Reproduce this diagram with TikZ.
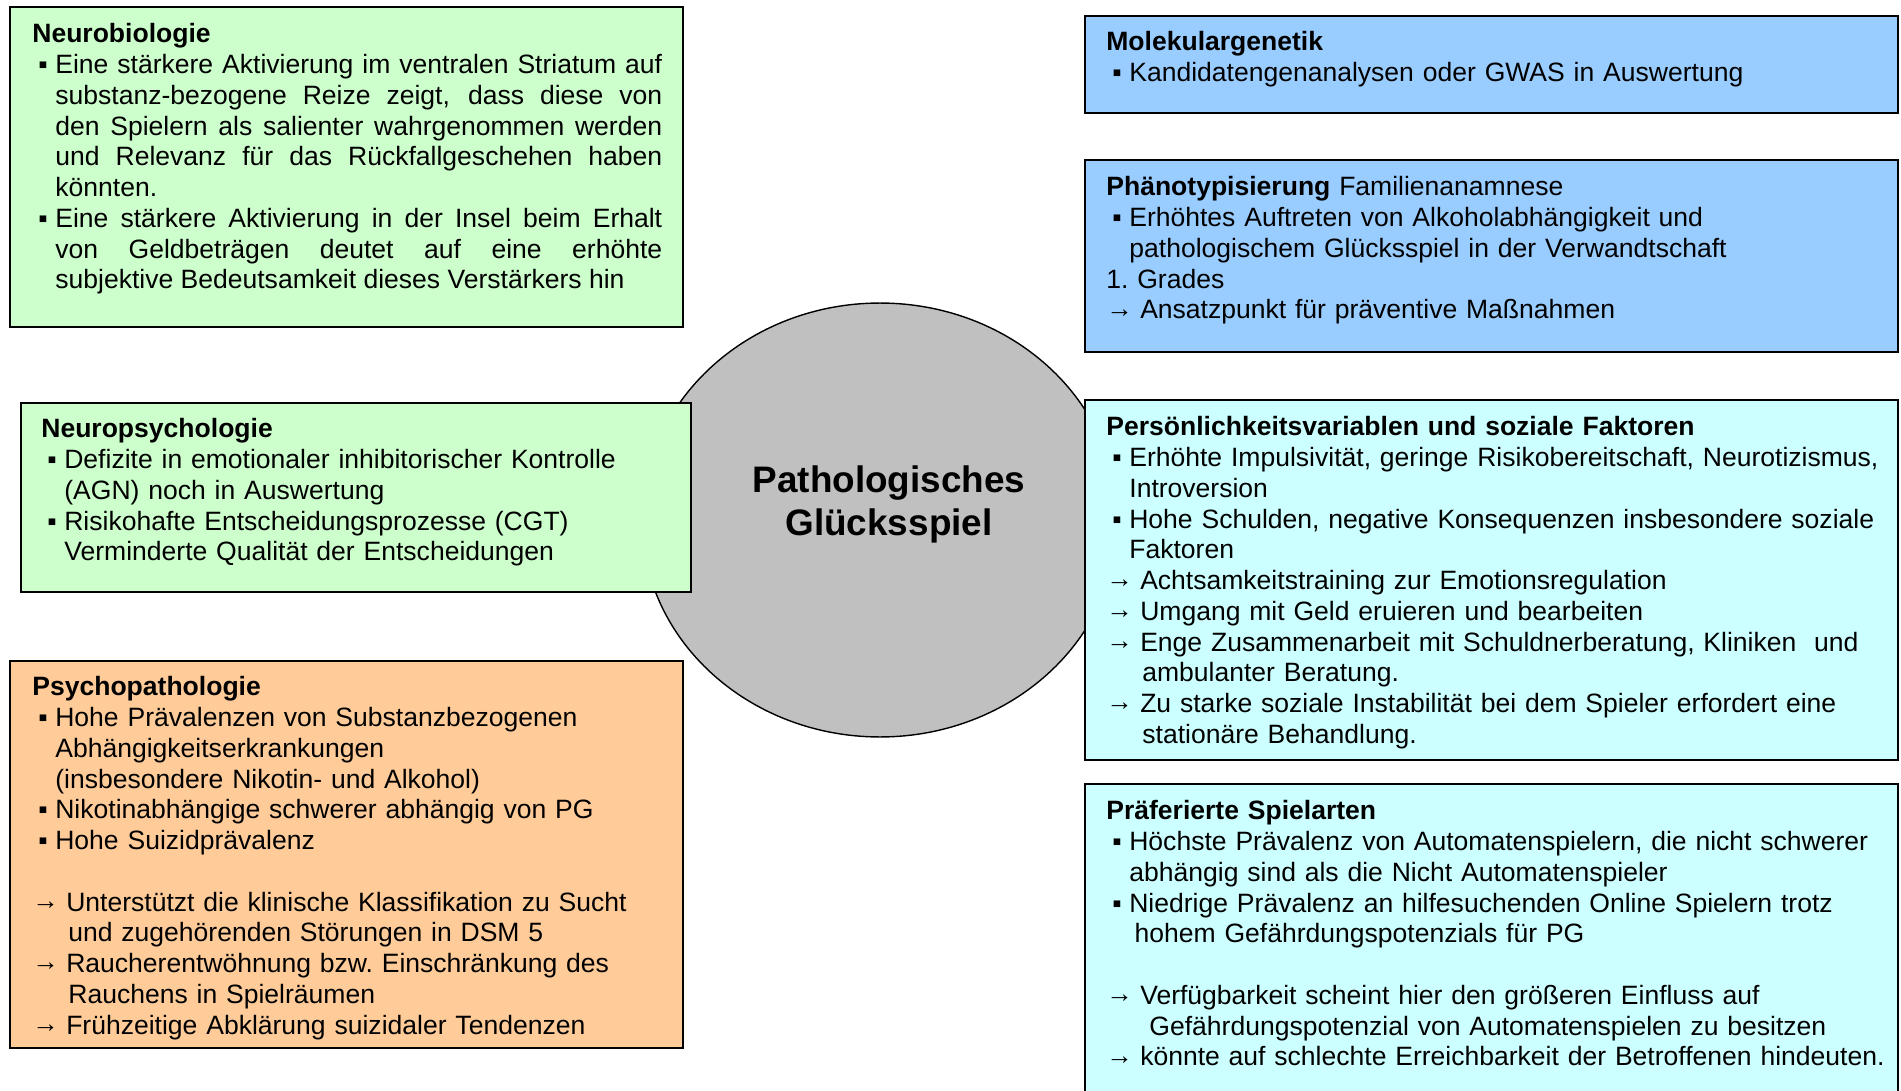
\documentclass[tikz,border=0pt]{standalone}
\usepackage{fontspec}
\setmainfont{Liberation Sans}

\definecolor{neurogreen}{HTML}{CCFFCC}
\definecolor{psychorange}{HTML}{FFCC99}
\definecolor{genblue}{HTML}{99CCFF}
\definecolor{sozcyan}{HTML}{CCFFFF}
\definecolor{kreisgrau}{HTML}{C0C0C0}

\begin{document}
\begin{tikzpicture}
  [x=0.02cm,y=-0.02cm
  ,neurobox/.style={fill=neurogreen,draw=black,line width=0.8pt}
  ,psychbox/.style={fill=psychorange,draw=black,line width=0.8pt}
  ,genbox/.style={fill=genblue,draw=black,line width=0.8pt}
  ,sozbox/.style={fill=sozcyan,draw=black,line width=0.8pt}
  ,kreis/.style={fill=kreisgrau,draw=black,line width=0.8pt}
  ,txt/.style={anchor=north west,inner sep=0pt,align=left,text width=13cm
              ,font=\fontsize{15.1}{17.5}\selectfont}
  ]

  % Feld
  %
  % #1 - Ecke links oben
  % #2 - Ecke rechts unten
  % #3 - Stil
  \newcommand{\feld}[3]{
    \path[#3] #1 rectangle #2;
  }

  % Aufzaehlungspunkt
  %
  % #1 - Text
  \newcommand{\bul}[1]{\par\hangindent=13.1pt\hangafter=1\noindent
    \hspace*{3.4pt}\makebox[9.7pt][l]{▪}#1}

  % Folgerung mit Pfeil
  %
  % #1 - Text
  \newcommand{\pfeil}[1]{\par\hangindent=20.5pt\hangafter=1\noindent
    \makebox[19.3pt][l]{\raisebox{1pt}{→}}#1}

  \useasboundingbox (0,0) rectangle (1901,1091);

  % center
  \path[kreis] (880,520) ellipse [x radius=4.76cm, y radius=4.34cm];
  \node[anchor=north,inner sep=0pt,align=center
       ,font=\fontsize{21}{24.5}\selectfont\bfseries] (titel) at (889,462)
    {\strut Pathologisches\\Glücksspiel};

  % left
  \feld{(10,7)}{(683,327)}{neurobox}
  \feld{(21,403)}{(691,592)}{neurobox}
  \feld{(10,661)}{(683,1048)}{psychbox}

  % right
  \feld{(1085,16)}{(1898,113)}{genbox}
  \feld{(1085,160)}{(1898,352)}{genbox}
  \feld{(1085,400)}{(1898,760)}{sozbox}
  \path[fill=sozcyan] (1085,784) rectangle (1898,1091);
  \draw[line width=0.8pt] (1085,1091) |- (1898,784) -- (1898,1091);

  \node[txt,text width=12.6cm,align=justify,
        execute at begin node={\hyphenpenalty=10000\exhyphenpenalty=10000\tolerance=10000}]
    (neurobio) at (32,21) {\strut\textbf{Neurobiologie}
    \bul{Eine stärkere Aktivierung im ventralen Striatum auf\linebreak
      substanz-bezogene Reize zeigt, dass diese von\linebreak
      den Spielern als salienter wahrgenommen werden\linebreak
      und Relevanz für das Rückfallgeschehen haben\linebreak
      könnten.}
    \bul{Eine stärkere Aktivierung in der Insel beim Erhalt\linebreak
      von Geldbeträgen deutet auf eine erhöhte\linebreak
      subjektive Bedeutsamkeit dieses Verstärkers hin}\par};

  \node[txt] (neuropsych) at (41,416) {\strut\textbf{Neuropsychologie}
    \bul{Defizite in emotionaler inhibitorischer Kontrolle\newline
      (AGN) noch in Auswertung}
    \bul{Risikohafte Entscheidungsprozesse (CGT)\newline
      Verminderte Qualität der Entscheidungen}\par};

  \node[txt] (psychopath) at (32,674) {\strut\textbf{Psychopathologie}
    \bul{Hohe Prävalenzen von Substanzbezogenen\newline
      Abhängigkeitserkrankungen\newline
      (insbesondere Nikotin- und Alkohol)}
    \bul{Nikotinabhängige schwerer abhängig von PG}
    \bul{Hohe Suizidprävalenz}
    \par\mbox{}
    \pfeil{Unterstützt die klinische Klassifikation zu Sucht\newline
      und zugehörenden Störungen in DSM 5}
    \pfeil{Raucherentwöhnung bzw.\ Einschränkung des\newline
      Rauchens in Spielräumen}
    \pfeil{Frühzeitige Abklärung suizidaler Tendenzen}\par};

  \node[txt,text width=16cm] (molgen) at (1106,29) {\strut\textbf{Molekulargenetik}
    \bul{Kandidatengenanalysen oder GWAS in Auswertung}\par};

  \node[txt,text width=16cm] (phaeno) at (1106,174)
    {\strut\textbf{Phänotypisierung} Familienanamnese
    \bul{Erhöhtes Auftreten von Alkoholabhängigkeit und\newline
      pathologischem Glücksspiel in der Verwandtschaft}
    \par 1.\ Grades
    \pfeil{Ansatzpunkt für präventive Maßnahmen}\par};

  \node[txt,text width=16cm] (persoen) at (1106,414)
    {\strut\textbf{Persönlichkeitsvariablen und soziale Faktoren}
    \bul{Erhöhte Impulsivität, geringe Risikobereitschaft, Neurotizismus,\newline
      Introversion}
    \bul{Hohe Schulden, negative Konsequenzen insbesondere soziale\newline
      Faktoren}
    \pfeil{Achtsamkeitstraining zur Emotionsregulation}
    \pfeil{Umgang mit Geld eruieren und bearbeiten}
    \pfeil{Enge Zusammenarbeit mit Schuldnerberatung, Kliniken\ \ und\newline
      ambulanter Beratung.}
    \pfeil{Zu starke soziale Instabilität bei dem Spieler erfordert eine\newline
      stationäre Behandlung.}\par};

  \node[txt,text width=16cm] (spielarten) at (1106,798)
    {\strut\textbf{Präferierte Spielarten}
    \bul{Höchste Prävalenz von Automatenspielern, die nicht schwerer\newline
      abhängig sind als die Nicht Automatenspieler}
    \bul{Niedrige Prävalenz an hilfesuchenden Online Spielern trotz\newline
      \hspace*{3pt}hohem Gefährdungspotenzials für PG}
    \par\mbox{}
    \pfeil{Verfügbarkeit scheint hier den größeren Einfluss auf\newline
      \hspace*{4pt}Gefährdungspotenzial von Automatenspielen zu besitzen}
    \pfeil{könnte auf schlechte Erreichbarkeit der Betroffenen hindeuten.}\par};

\end{tikzpicture}
\end{document}
